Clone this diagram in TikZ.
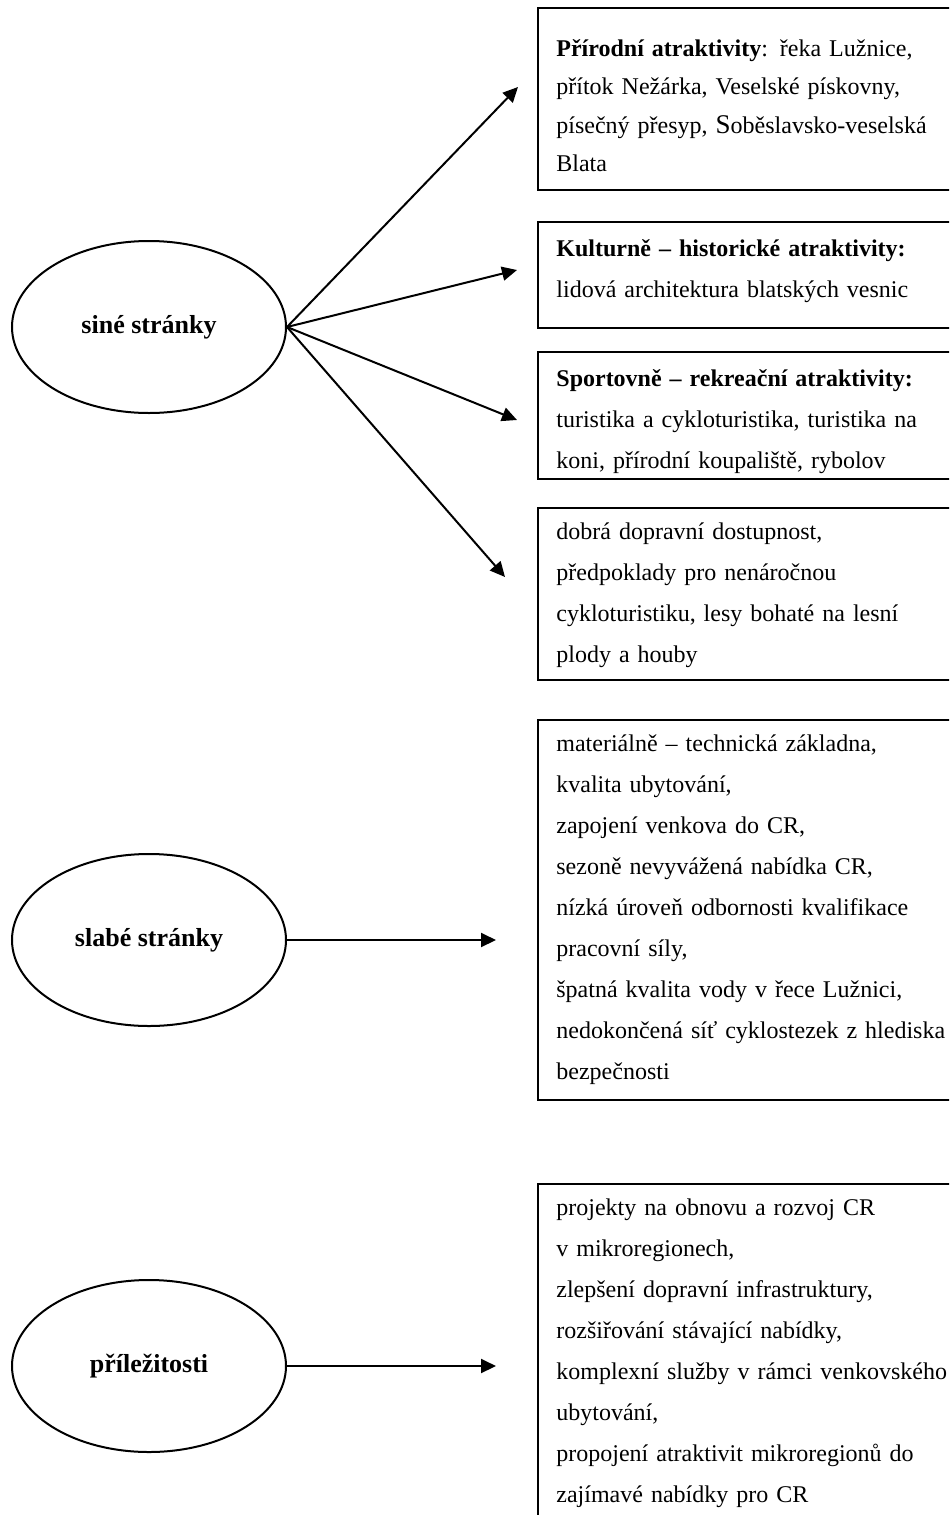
\documentclass[tikz,border=0pt]{standalone}
\usepackage{fontspec}
\setmainfont{Liberation Serif}
\usetikzlibrary{arrows.meta,shapes.geometric}

\begin{document}
\begin{tikzpicture}[x=0.5pt,y=-0.5pt,
 side/.style={ellipse,draw,line width=1pt,minimum width=137pt,minimum height=86pt,inner sep=0pt,font=\fontsize{13}{16}\selectfont\bfseries},
 frame/.style={draw,line width=1.2pt},
 txt/.style={anchor=base west,inner sep=0pt,text width=230pt,align=left,font=\fontsize{12}{20.5}\selectfont},
 arr/.style={-{Triangle[length=7.5pt,width=7pt]},line width=1pt}]
\useasboundingbox (0,0) rectangle (949,1515);
\clip (0,0) rectangle (949,1515);
% the three sides
\node[side] (sine) at (149,327) {siné stránky};
\node[side] (slabe) at (149,940) {slabé stránky};
\node[side] (prilez) at (149,1366) {příležitosti};
% frames, open to the right
\foreach \ya/\yb in {8/190,222/328,352/479,508/680,720/1100,1184/1530}
 \draw[frame] (538,\ya) rectangle (960,\yb);
% texts
\node[txt,font=\fontsize{12}{19.25}\selectfont] (prir) at (556,56)
 {\makebox[194.5pt][s]{\textbf{Přírodní atraktivity}: řeka Lužnice,}\\
 \makebox[194.5pt][s]{přítok Nežárka, Veselské pískovny,}\\
 \makebox[194.5pt][s]{písečný přesyp, {\fontsize{13.5}{14}\selectfont S}oběslavsko-veselská}\\
 Blata};
\node[txt] (kult) at (556,256)
 {\textbf{Kulturně – historické atraktivity:}\\
 lidová architektura blatských vesnic};
\node[txt] (sport) at (556,386)
 {\textbf{Sportovně – rekreační atraktivity:}\\
 turistika a cykloturistika, turistika na\\
 koni, přírodní koupaliště, rybolov};
\node[txt] (dopr) at (556,539)
 {dobrá dopravní dostupnost,\\
 předpoklady pro nenáročnou\\
 cykloturistiku, lesy bohaté na lesní\\
 plody a houby};
\node[txt] (slab) at (556,751)
 {materiálně – technická základna,\\
 kvalita ubytování,\\
 zapojení venkova do CR,\\
 sezoně nevyvážená nabídka CR,\\
 nízká úroveň odbornosti kvalifikace\\
 pracovní síly,\\
 špatná kvalita vody v řece Lužnici,\\
 nedokončená síť cyklostezek z hlediska\\
 bezpečnosti};
\node[txt] (prl) at (556,1215)
 {projekty na obnovu a rozvoj CR\\
 v mikroregionech,\\
 zlepšení dopravní infrastruktury,\\
 rozšiřování stávající nabídky,\\
 komplexní služby v rámci venkovského\\
 ubytování,\\
 propojení atraktivit mikroregionů do\\
 zajímavé nabídky pro CR};
% arrow ends
\coordinate (t1) at (518,87);
\coordinate (t2) at (517,270);
\coordinate (t3) at (517,420);
\coordinate (t4) at (505,577);
\coordinate (t5) at (496,940);
\coordinate (t6) at (496,1366);
\foreach \t in {t1,t2,t3,t4}
 \draw[arr] (sine.east) -- (\t);
\draw[arr] (slabe.east) -- (t5);
\draw[arr] (prilez.east) -- (t6);
\end{tikzpicture}
\end{document}
